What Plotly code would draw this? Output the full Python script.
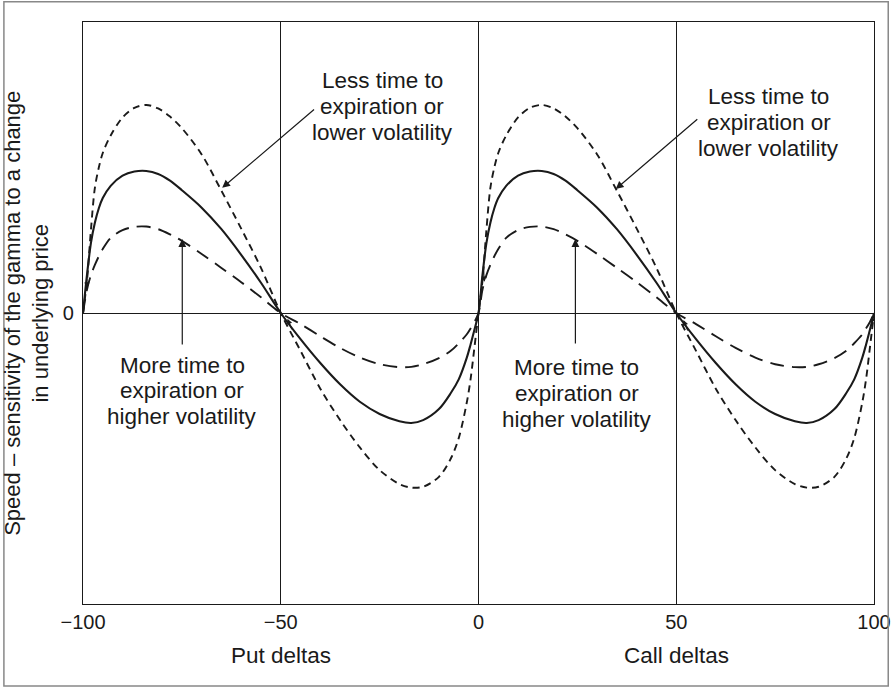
import plotly.graph_objects as go

# Speed vs delta.
# One half (put deltas -100..0) has the same shape as the call half (0..100).
put_deltas = [-100, -99, -98, -97, -96, -95, -93, -90, -87, -84, -81, -78, -75,
              -70, -65, -60, -55, -50, -45, -40, -35, -30, -25, -20, -17, -14,
              -10, -7, -5, -3, -2, -1, 0]
call_deltas = [0, 1, 2, 3, 4, 5, 7, 10, 13, 16, 19, 22, 25,
               30, 35, 40, 45, 50, 55, 60, 65, 70, 75, 80, 83, 86,
               90, 93, 95, 97, 98, 99, 100]

# base case (solid)
speed_mid = [0, 0.13, 0.24, 0.31, 0.36, 0.395, 0.437, 0.472, 0.486, 0.488, 0.478,
             0.455, 0.422, 0.362, 0.288, 0.2, 0.104, 0, -0.09, -0.172, -0.245,
             -0.305, -0.347, -0.372, -0.378, -0.368, -0.33, -0.275, -0.228, -0.155,
             -0.108, -0.056, 0]
# less time to expiration / lower volatility (short dash)
speed_less = [0, 0.11, 0.285, 0.43, 0.5, 0.55, 0.61, 0.672, 0.705, 0.715, 0.703,
              0.675, 0.635, 0.545, 0.42, 0.29, 0.155, 0, -0.13, -0.26, -0.368,
              -0.462, -0.54, -0.588, -0.6, -0.597, -0.563, -0.5, -0.43, -0.31,
              -0.227, -0.115, 0]
# more time to expiration / higher volatility (long dash)
speed_more = [0, 0.08, 0.13, 0.165, 0.195, 0.22, 0.258, 0.285, 0.296, 0.297, 0.288,
              0.27, 0.248, 0.203, 0.155, 0.106, 0.054, 0, -0.038, -0.08, -0.12,
              -0.153, -0.176, -0.186, -0.185, -0.176, -0.155, -0.13, -0.104,
              -0.074, -0.053, -0.03, 0]

x_ticks = [-100, -50, 0, 50, 100]
x_tick_text = ['\u2212100', '\u221250', '0', '50', '100']

label_less = ['Less time to', 'expiration or', 'lower volatility']
label_more = ['More time to', 'expiration or', 'higher volatility']

FONT = 'Liberation Sans, Arial, Helvetica, sans-serif'
INK = '#1a1a1a'
LINE_STEP = 0.0893  # 26 px between text lines, in y units

fig = go.Figure()


def add_curve(vals, dash, width):
    fig.add_trace(go.Scatter(
        x=put_deltas + call_deltas[1:], y=vals + vals[1:], mode='lines',
        line=dict(color=INK, width=width, dash=dash, shape='spline', smoothing=0.9),
        showlegend=False, hoverinfo='skip'))


add_curve(speed_less, '7px,5px', 1.9)
add_curve(speed_mid, 'solid', 2.1)
add_curve(speed_more, '14px,8px', 1.9)

anns = []
# three-line labels, centre line at (x, y)
for x, y, lines in [(-24.3, 0.711, label_less), (73.4, 0.656, label_less),
                    (-74.9, -0.268, label_more), (24.8, -0.278, label_more)]:
    for i, t in enumerate(lines):
        anns.append(dict(x=x, y=y + (1 - i) * LINE_STEP, xref='x', yref='y',
                         text=t, showarrow=False, xanchor='center', yanchor='middle',
                         font=dict(size=22.5, color=INK, family=FONT)))

# arrows: (head x, head y, tail x, tail y)
for hx, hy, tx, ty in [(-64.8, 0.43, -41.2, 0.704), (34.7, 0.426, 55.7, 0.67),
                       (-74.9, 0.254, -74.9, -0.113), (24.5, 0.254, 24.5, -0.11)]:
    anns.append(dict(x=hx, y=hy, ax=tx, ay=ty, xref='x', yref='y', axref='x',
                     ayref='y', text='', showarrow=True, arrowhead=2,
                     arrowsize=1.3, arrowwidth=1.2, arrowcolor=INK))

# small arrow marks sitting on the short-dash curve near the zero crossings
for hx, hy, ox, oy in [(-99.0, 0.086, 0, -12), (1.5, 0.107, -1, -12),
                       (-48.3, -0.02, 5, 12), (51.8, -0.024, 5, 12),
                       (99.6, -0.01, 0, 12)]:
    anns.append(dict(x=hx, y=hy, ax=ox, ay=oy, xref='x', yref='y', text='',
                     showarrow=True, arrowhead=2, arrowsize=0.9, arrowwidth=1.2,
                     arrowcolor=INK))

for x, t in [(-50, 'Put deltas'), (50, 'Call deltas')]:
    anns.append(dict(x=x, y=-0.0893, xref='x', yref='paper', text=t, showarrow=False,
                     xanchor='center', yanchor='middle',
                     font=dict(size=22.5, color=INK, family=FONT)))

anns.append(dict(x=-0.071, y=0.5, xref='paper', yref='paper', textangle=-90,
                 xanchor='center', yanchor='middle',
                 text='Speed \u2013 sensitivity of the gamma to a change<br>in underlying price',
                 showarrow=False, font=dict(size=22, color=INK, family=FONT)))

fig.update_layout(
    width=891, height=688,
    margin=dict(l=83, r=17, t=22, b=84),
    paper_bgcolor='white', plot_bgcolor='white',
    annotations=anns,
    shapes=[dict(type='rect', xref='paper', yref='paper', x0=-0.1, x1=1.018,
                 y0=-0.141, y1=1.035, line=dict(color='#888888', width=1.5))],
    xaxis=dict(range=[-100, 100], tickvals=x_ticks, ticktext=x_tick_text,
               showgrid=True, gridcolor=INK, gridwidth=1.2, zeroline=False,
               showline=True, linecolor=INK, linewidth=1.2, mirror=True,
               ticks='', ticklabeloverflow='allow', automargin=False,
               tickfont=dict(size=20, color=INK, family=FONT)),
    yaxis=dict(range=[-1, 1], tickvals=[0], ticktext=['0'], showgrid=True,
               gridcolor=INK, gridwidth=1.2, zeroline=False, showline=True,
               linecolor=INK, linewidth=1.2, mirror=True, ticks='', automargin=False,
               ticklabelstandoff=4, tickfont=dict(size=20, color=INK, family=FONT)),
)

fig.write_html('out.html', config={'displayModeBar': False},
               post_script="document.body.style.margin='0';")
